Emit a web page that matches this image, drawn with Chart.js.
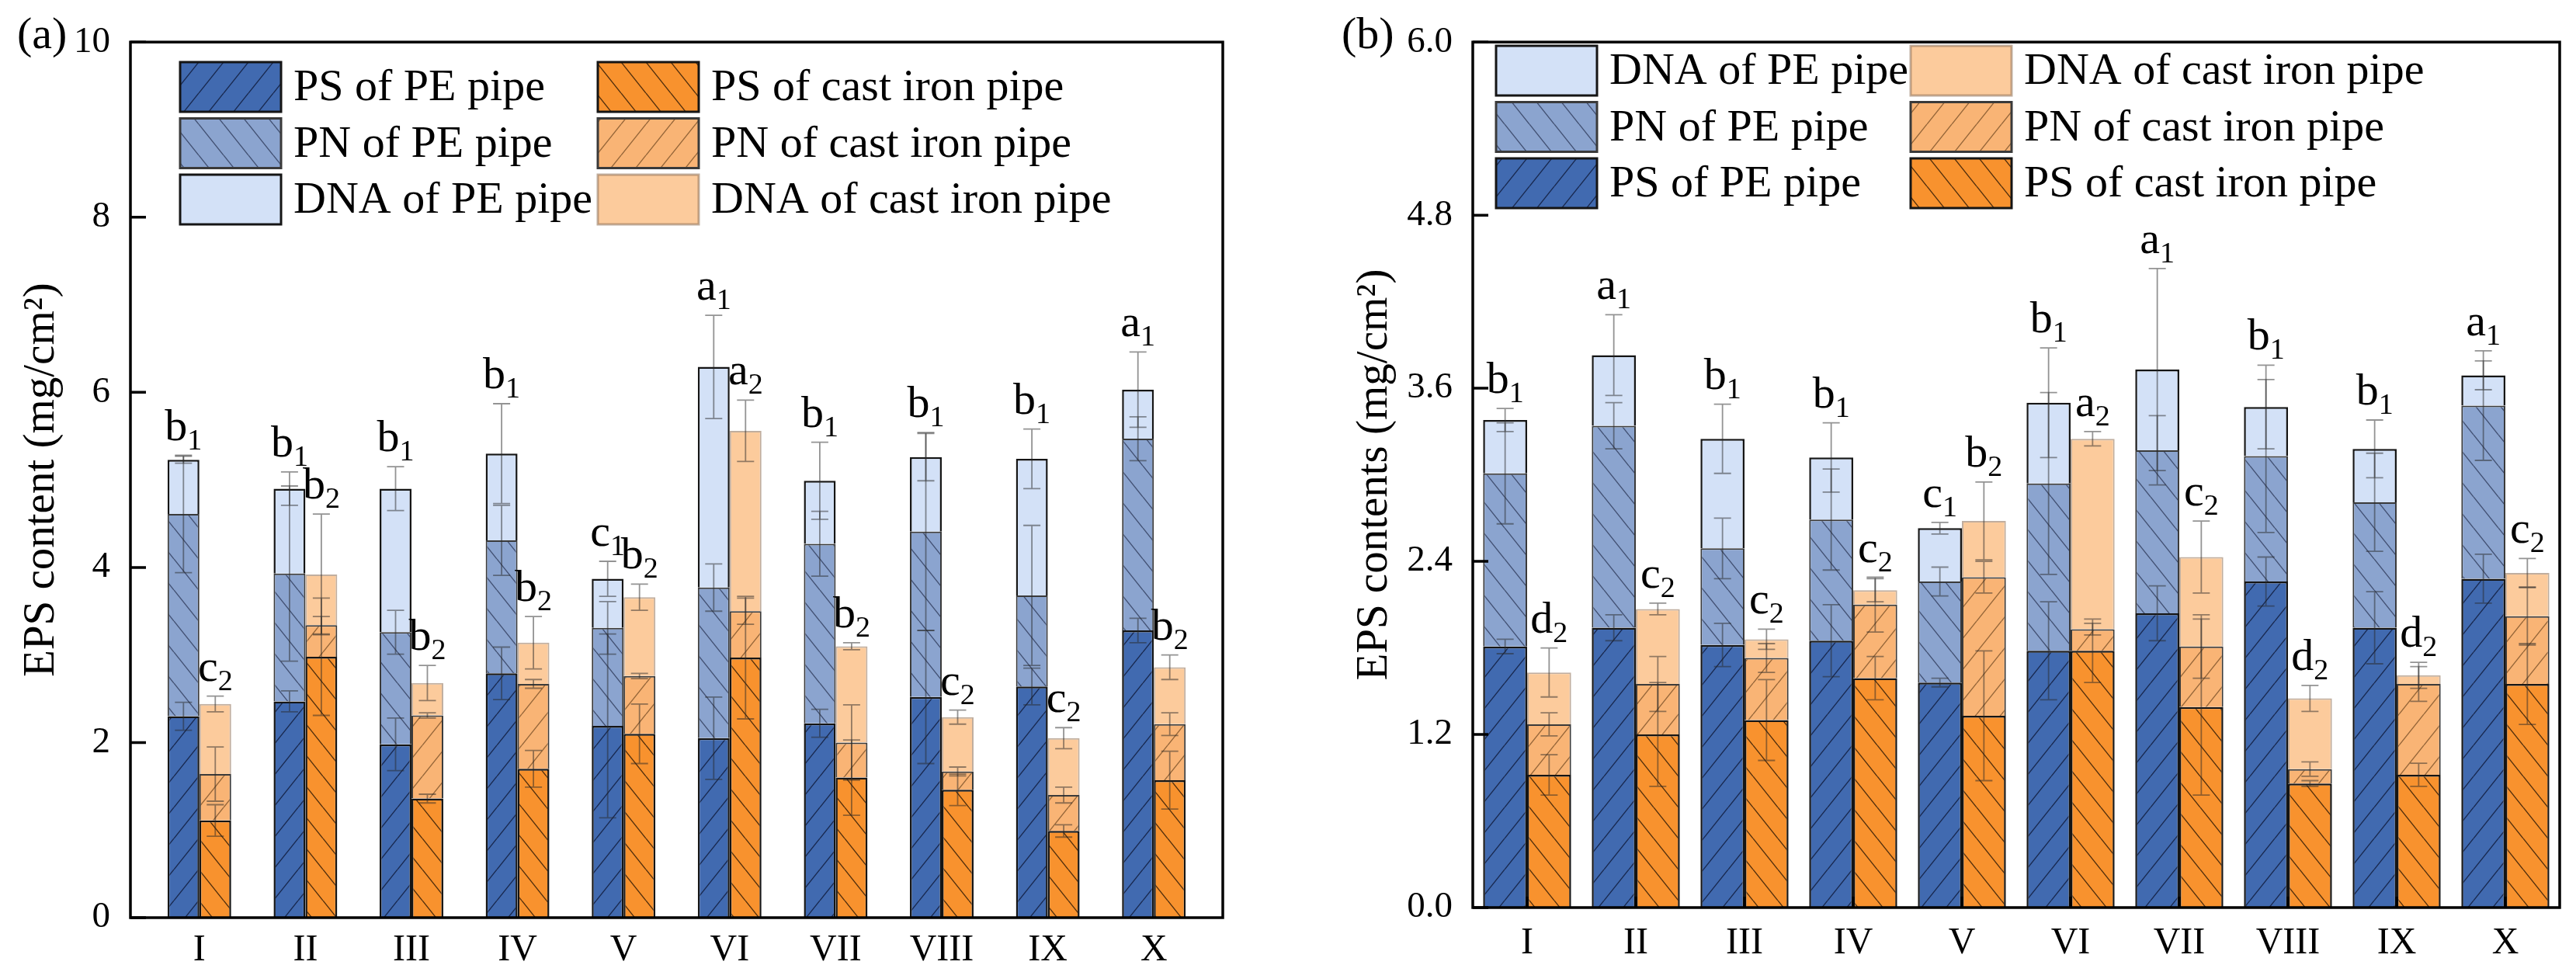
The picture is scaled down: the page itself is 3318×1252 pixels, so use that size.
<!DOCTYPE html>
<html>
<head>
<meta charset="utf-8">
<script src="https://cdn.jsdelivr.net/npm/chart.js@4.4.1/dist/chart.umd.min.js"></script>
<style>
  body { margin: 0; background: #fff; width: 3318px; height: 1252px; position: relative; overflow: hidden; }
  canvas { position: absolute; top: 0; }
</style>
</head>
<body>
<canvas id="chartA" width="1650" height="1252" style="left:0px"></canvas>
<canvas id="chartB" width="1668" height="1252" style="left:1650px"></canvas>
<script>
// categories (x axis)
const categories = ["I", "II", "III", "IV", "V", "VI", "VII", "VIII", "IX", "X"];

// (a) EPS content (mg/cm2), segment heights of the stacks
const psPE_a  = [2.30, 2.47, 1.98, 2.79, 2.19, 2.05, 2.22, 2.52, 2.64, 3.28];
const pnPE_a  = [2.31, 1.46, 1.28, 1.52, 1.12, 1.72, 2.05, 1.89, 1.04, 2.19];
const dnaPE_a = [0.62, 0.97, 1.64, 0.99, 0.56, 2.52, 0.72, 0.85, 1.56, 0.56];
const psCI_a  = [1.11, 2.98, 1.36, 1.70, 2.10, 2.97, 1.60, 1.46, 0.99, 1.57];
const pnCI_a  = [0.53, 0.36, 0.95, 0.97, 0.66, 0.53, 0.40, 0.21, 0.41, 0.64];
const dnaCI_a = [0.80, 0.58, 0.37, 0.47, 0.90, 2.06, 1.10, 0.62, 0.65, 0.65];
// (a) standard deviations
const errPsPE_a  = [0.16, 0.12, 0.30, 0.30, 1.05, 0.47, 0.16, 0.76, 0.21, 0.14];
const errPnPE_a  = [0.67, 1.00, 0.25, 0.40, 0.30, 0.27, 0.37, 1.13, 0.80, 0.25];
const errDnaPE_a = [0.04, 0.19, 0.25, 0.57, 0.20, 0.59, 0.44, 0.27, 0.34, 0.43];
const errPsCI_a  = [0.18, 0.67, 0.05, 0.21, 0.34, 0.70, 0.43, 0.18, 0.07, 0.33];
const errPnCI_a  = [0.31, 0.10, 0.03, 0.05, 0.03, 0.15, 0.43, 0.05, 0.09, 0.13];
const errDnaCI_a = [0.09, 0.69, 0.20, 0.30, 0.15, 0.35, 0.04, 0.08, 0.12, 0.14];
// (a) significance letters
const sigPE_a = ["b", "b", "b", "b", "c", "a", "b", "b", "b", "a"];
const sigCI_a = ["c", "b", "b", "b", "b", "a", "b", "c", "c", "b"];
const yTicks_a = [0, 2, 4, 6, 8, 10];

// (b) EPS contents (mg/cm2), segment heights of the stacks
const psPE_b  = [1.81, 1.94, 1.82, 1.85, 1.56, 1.78, 2.04, 2.26, 1.94, 2.28];
const pnPE_b  = [1.20, 1.40, 0.67, 0.84, 0.70, 1.16, 1.13, 0.87, 0.87, 1.20];
const dnaPE_b = [0.37, 0.49, 0.76, 0.43, 0.37, 0.56, 0.56, 0.34, 0.37, 0.21];
const psCI_b  = [0.92, 1.20, 1.30, 1.59, 1.33, 1.78, 1.39, 0.86, 0.92, 1.55];
const pnCI_b  = [0.35, 0.35, 0.43, 0.51, 0.96, 0.15, 0.42, 0.10, 0.63, 0.47];
const dnaCI_b = [0.36, 0.52, 0.13, 0.10, 0.39, 1.32, 0.62, 0.49, 0.06, 0.30];
// (b) standard deviations
const errPsPE_b  = [0.05, 0.09, 0.15, 0.25, 0.03, 0.34, 0.19, 0.17, 0.25, 0.17];
const errPnPE_b  = [0.35, 0.16, 0.21, 0.35, 0.10, 0.63, 0.24, 0.53, 0.34, 0.38];
const errDnaPE_b = [0.08, 0.28, 0.24, 0.24, 0.04, 0.38, 0.70, 0.29, 0.20, 0.10];
const errPsCI_b  = [0.14, 0.36, 0.28, 0.15, 0.45, 0.22, 0.61, 0.02, 0.08, 0.28];
const errPnCI_b  = [0.08, 0.19, 0.10, 0.19, 0.11, 0.04, 0.22, 0.05, 0.12, 0.20];
const errDnaCI_b = [0.17, 0.04, 0.07, 0.08, 0.27, 0.05, 0.25, 0.09, 0.09, 0.10];
// (b) significance letters
const sigPE_b = ["b", "a", "b", "b", "c", "b", "a", "b", "b", "a"];
const sigCI_b = ["d", "c", "c", "c", "b", "a", "c", "d", "d", "c"];
const yTicks_b = [0, 1.2, 2.4, 3.6, 4.8, 6.0];

const FONT = "'Liberation Serif', 'Times New Roman', serif";

//HATCH PATTERNS
function hatch(fill, dir, line) {
	const w = 32;
	const h = 40;
	const c = document.createElement("canvas");
	c.width = w;
	c.height = h;
	const g = c.getContext("2d");
	g.fillStyle = fill;
	g.fillRect(0, 0, w, h);
	if (dir) {
		g.strokeStyle = line;
		g.lineWidth = 1.4;
		g.beginPath();
		[-w, 0, w].forEach((k) => {
			if (dir === "/") {
				g.moveTo(k, h);
				g.lineTo(k + w, 0);
			} else {
				g.moveTo(k, 0);
				g.lineTo(k + w, h);
			}
		});
		g.stroke();
	}
	return g.createPattern(c, "repeat");
}

const STYLE = {
	psPE: { bg: hatch("#416ab0", "/", "rgba(15,25,55,0.8)"), border: "#151515", bw: 2.5 },
	pnPE: { bg: hatch("#8ba4cf", "\\", "rgba(35,45,75,0.7)"), border: "#3a3a3a", bw: 2 },
	dnaPE: { bg: hatch("#d3e1f7", null), border: "#151515", bw: 2.5 },
	psCI: { bg: hatch("#f8922e", "\\", "rgba(40,22,5,0.8)"), border: "#151515", bw: 2.5 },
	pnCI: { bg: hatch("#f9b475", "/", "rgba(95,60,25,0.65)"), border: "#3a3a3a", bw: 2 },
	dnaCI: { bg: hatch("#fccb9c", null), border: "rgba(150,120,95,0.6)", bw: 2 },
};

//DRAW ERROR BARS, LETTERS, FRAME AND LEGEND
const decor = {
	id: "decor",
	afterDatasetsDraw(chart, args, o) {
		const ctx = chart.ctx;
		const ys = chart.scales.y;
		ctx.save();
		ctx.strokeStyle = "rgba(40,40,40,0.5)";
		ctx.lineWidth = 1.8;
		chart.data.datasets.forEach((ds, di) => {
			chart.getDatasetMeta(di).data.forEach((bar, i) => {
				const y1 = ys.getPixelForValue(ds.cum[i] + ds.err[i]);
				const y2 = ys.getPixelForValue(ds.cum[i] - ds.err[i]);
				ctx.beginPath();
				ctx.moveTo(bar.x, y1);
				ctx.lineTo(bar.x, y2);
				ctx.moveTo(bar.x - 11, y1);
				ctx.lineTo(bar.x + 11, y1);
				ctx.moveTo(bar.x - 11, y2);
				ctx.lineTo(bar.x + 11, y2);
				ctx.stroke();
			});
		});
		// letters above each stack
		ctx.fillStyle = "#000";
		ctx.textBaseline = "alphabetic";
		o.sig.forEach((s) => {
			const top = chart.data.datasets[s.ds];
			chart.getDatasetMeta(s.ds).data.forEach((bar, i) => {
				let peak = 0;
				chart.data.datasets.forEach((d) => {
					if (d.stack === top.stack) peak = Math.max(peak, d.cum[i] + d.err[i]);
				});
				const yb = ys.getPixelForValue(peak) - 20;
				ctx.font = "58px " + FONT;
				const w1 = ctx.measureText(s.letters[i]).width;
				ctx.font = "38px " + FONT;
				const w2 = ctx.measureText(s.sub).width;
				const x0 = bar.x - (w1 + w2) / 2;
				ctx.font = "58px " + FONT;
				ctx.fillText(s.letters[i], x0, yb);
				ctx.font = "38px " + FONT;
				ctx.fillText(s.sub, x0 + w1, yb + 12);
			});
		});
		ctx.restore();
	},
	afterDraw(chart, args, o) {
		const ctx = chart.ctx;
		const a = chart.chartArea;
		const ys = chart.scales.y;
		const xs = chart.scales.x;
		ctx.save();
		ctx.strokeStyle = "#000";
		ctx.lineWidth = 3.5;
		ctx.strokeRect(a.left, a.top, a.right - a.left, a.bottom - a.top);
		ctx.beginPath();
		ys.ticks.forEach((t) => {
			const py = ys.getPixelForValue(t.value);
			ctx.moveTo(a.left, py);
			ctx.lineTo(a.left + 20, py);
		});
		if (o.xTick) {
			xs.ticks.forEach((t) => {
				const px = xs.getPixelForValue(t.value);
				ctx.moveTo(px, a.bottom);
				ctx.lineTo(px, a.bottom - o.xTick);
			});
		}
		ctx.stroke();
		// panel tag
		ctx.fillStyle = "#000";
		ctx.font = "58px " + FONT;
		ctx.textBaseline = "alphabetic";
		ctx.fillText(o.tag, o.tagX, 62);
		// legend, two columns of three
		ctx.font = "58px " + FONT;
		ctx.textBaseline = "middle";
		o.legend.forEach((col, ci) => {
			col.forEach((di, ri) => {
				const ds = chart.data.datasets[di];
				const bx = o.legX[ci];
				const by = o.legY + ri * 72.5;
				ctx.fillStyle = ds.backgroundColor;
				ctx.fillRect(bx, by, 130, 64);
				ctx.strokeStyle = ds.borderColor;
				ctx.lineWidth = 3;
				ctx.strokeRect(bx, by, 130, 64);
				ctx.fillStyle = "#000";
				ctx.fillText(ds.label, bx + 146, by + 34);
			});
		});
		ctx.restore();
	},
};

function stackSum(parts) {
	const out = [];
	let run = parts[0].map(() => 0);
	parts.forEach((p) => {
		run = run.map((v, i) => v + p[i]);
		out.push(run.slice());
	});
	return out;
}

function buildChart(id, o) {
	const cumPE = stackSum([o.ps, o.pn, o.dna]);
	const cumCI = stackSum([o.psc, o.pnc, o.dnac]);
	const make = (label, vals, cum, err, stack, st) => ({
		label: label,
		data: vals.map((v, i) => ({ x: i, y: v })),
		cum: cum,
		err: err,
		stack: stack,
		backgroundColor: st.bg,
		borderColor: st.border,
		borderWidth: st.bw,
	});
	const datasets = [
		make("PS of PE pipe", o.ps, cumPE[0], o.eps, "pe", STYLE.psPE),
		make("PN of PE pipe", o.pn, cumPE[1], o.epn, "pe", STYLE.pnPE),
		make("DNA of PE pipe", o.dna, cumPE[2], o.edna, "pe", STYLE.dnaPE),
		make("PS of cast iron pipe", o.psc, cumCI[0], o.epsc, "ci", STYLE.psCI),
		make("PN of cast iron pipe", o.pnc, cumCI[1], o.epnc, "ci", STYLE.pnCI),
		make("DNA of cast iron pipe", o.dnac, cumCI[2], o.ednac, "ci", STYLE.dnaCI),
	];
	return new Chart(document.getElementById(id), {
		type: "bar",
		data: { datasets: datasets },
		plugins: [decor],
		options: {
			responsive: false,
			animation: false,
			devicePixelRatio: 1,
			layout: { padding: { left: o.padL, right: o.padR, top: o.padT, bottom: 0 } },
			datasets: { bar: { categoryPercentage: o.catPct, barPercentage: 1 } },
			plugins: {
				legend: { display: false },
				tooltip: { enabled: false },
				decor: {
					tag: o.tag,
					tagX: o.tagX,
					legX: o.legX,
					legY: o.legY,
					legend: o.legend,
					xTick: o.xTick,
					sig: [
						{ ds: 2, letters: o.sigPE, sub: "1" },
						{ ds: 5, letters: o.sigCI, sub: "2" },
					],
				},
			},
			scales: {
				x: {
					type: "linear",
					stacked: true,
					min: o.xMin,
					max: o.xMax,
					offset: false,
					grid: { display: false, drawTicks: false },
					border: { display: false },
					afterBuildTicks: (s) => {
						s.ticks = categories.map((c, i) => ({ value: i }));
					},
					afterFit: (s) => {
						s.height = o.xH;
					},
					ticks: {
						callback: (v) => categories[v],
						font: { family: FONT, size: 48 },
						color: "#000",
						padding: o.xPad,
						maxRotation: 0,
						autoSkip: false,
					},
				},
				y: {
					stacked: true,
					min: 0,
					max: o.yTicks[o.yTicks.length - 1],
					grid: { display: false, drawTicks: false },
					border: { display: false },
					afterBuildTicks: (s) => {
						s.ticks = o.yTicks.map((v) => ({ value: v }));
					},
					afterFit: (s) => {
						s.width = o.yW;
					},
					ticks: {
						callback: (v) => v.toFixed(o.dec),
						font: { family: FONT, size: 47 },
						color: "#000",
						padding: 26,
					},
					title: {
						display: true,
						text: o.yTitle,
						font: { family: FONT, size: 57 },
						color: "#000",
						padding: { top: 0, bottom: 0 },
					},
				},
			},
		},
	});
}

//PANEL (a)
buildChart("chartA", {
	ps: psPE_a, pn: pnPE_a, dna: dnaPE_a, psc: psCI_a, pnc: pnCI_a, dnac: dnaCI_a,
	eps: errPsPE_a, epn: errPnPE_a, edna: errDnaPE_a, epsc: errPsCI_a, epnc: errPnCI_a, ednac: errDnaCI_a,
	sigPE: sigPE_a, sigCI: sigCI_a,
	yTicks: yTicks_a, dec: 0, yTitle: "EPS content (mg/cm²)",
	padL: 20, padR: 75, padT: 48, yW: 148, xH: 70, xPad: 14,
	xMin: -0.65, xMax: 9.65, catPct: 0.6, xTick: 0,
	tag: "(a)", tagX: 22,
	legX: [232, 770], legY: 80, legend: [[0, 1, 2], [3, 4, 5]],
});

//PANEL (b)
buildChart("chartB", {
	ps: psPE_b, pn: pnPE_b, dna: dnaPE_b, psc: psCI_b, pnc: pnCI_b, dnac: dnaCI_b,
	eps: errPsPE_b, epn: errPnPE_b, edna: errDnaPE_b, epsc: errPsCI_b, epnc: errPnCI_b, ednac: errDnaCI_b,
	sigPE: sigPE_b, sigCI: sigCI_b,
	yTicks: yTicks_b, dec: 1, yTitle: "EPS contents (mg/cm²)",
	padL: 87, padR: 21, padT: 43, yW: 160, xH: 83, xPad: 18,
	xMin: -0.5, xMax: 9.5, catPct: 0.81, xTick: 14,
	tag: "(b)", tagX: 78,
	legX: [277, 811], legY: 59, legend: [[2, 1, 0], [5, 4, 3]],
});
</script>
</body>
</html>
